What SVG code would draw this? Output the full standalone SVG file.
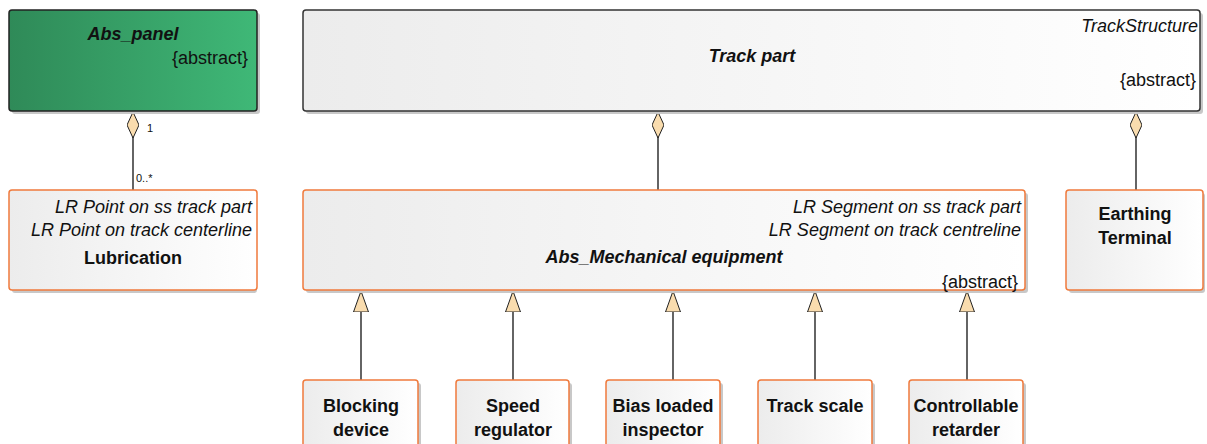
<svg xmlns="http://www.w3.org/2000/svg" width="1207" height="444" viewBox="0 0 1207 444">
<defs>
<linearGradient id="gGreen" x1="0" y1="0" x2="1" y2="0"><stop offset="0" stop-color="#2f8a58"/><stop offset="1" stop-color="#3fb877"/></linearGradient>
<linearGradient id="gGrey" x1="0" y1="0" x2="1" y2="0"><stop offset="0" stop-color="#ececec"/><stop offset="1" stop-color="#ffffff"/></linearGradient>
<marker id="diamond" viewBox="0 0 26 12" refX="26" refY="6" markerWidth="26" markerHeight="12" markerUnits="userSpaceOnUse" orient="auto"><path d="M0,6 L13,0 L26,6 L13,12 Z" fill="#f9dcae" stroke="#222" stroke-width="1"/></marker>
<marker id="tri" viewBox="0 0 21 16" refX="21" refY="8" markerWidth="21" markerHeight="16" markerUnits="userSpaceOnUse" orient="auto"><path d="M21,8 L0,0.5 L0,15.5 Z" fill="#f9dcae" stroke="#222" stroke-width="1"/></marker>
</defs>
<style>
text{font-family:"Liberation Sans",Arial,sans-serif;fill:#111}
.shadow{fill:#c8c8c8}
.cls{stroke:#f07a3c;stroke-width:1.5;fill:url(#gGrey)}
.dark{stroke:#333;stroke-width:1.5}
.it{font-style:italic;font-size:18px}
.bi{font-style:italic;font-weight:bold;font-size:18px}
.b{font-weight:bold;font-size:18px}
.r{font-size:18px}
.sm{font-size:11px}
.ln{stroke:#111;stroke-width:1.3;fill:none}
</style>
<g id="connectors">
<line class="ln" x1="133" y1="190" x2="133" y2="112" marker-end="url(#diamond)"/>
<line class="ln" x1="658" y1="190" x2="658" y2="112" marker-end="url(#diamond)"/>
<line class="ln" x1="1136" y1="190" x2="1136" y2="112" marker-end="url(#diamond)"/>
<line class="ln" x1="361" y1="380" x2="361" y2="291" marker-end="url(#tri)"/>
<line class="ln" x1="513" y1="380" x2="513" y2="291" marker-end="url(#tri)"/>
<line class="ln" x1="673" y1="380" x2="673" y2="291" marker-end="url(#tri)"/>
<line class="ln" x1="815" y1="380" x2="815" y2="291" marker-end="url(#tri)"/>
<line class="ln" x1="967" y1="380" x2="967" y2="291" marker-end="url(#tri)"/>
<text class="sm" x="147" y="132">1</text>
<text class="sm" x="136" y="182">0..*</text>
</g>
<g id="abs_panel">
<rect class="shadow" x="12" y="13" width="248" height="101" rx="3"/>
<rect x="9" y="10" width="248" height="101" rx="3" fill="url(#gGreen)" stroke="#222" stroke-width="1.5"/>
<text class="bi" x="133" y="40" text-anchor="middle">Abs_panel</text>
<text class="r" x="248" y="64" text-anchor="end">{abstract}</text>
</g>
<g id="track_part">
<rect class="shadow" x="306" y="13" width="897" height="101" rx="3"/>
<rect x="303" y="10" width="897" height="101" rx="3" fill="url(#gGrey)" class="dark"/>
<text class="it" x="1198" y="32" text-anchor="end">TrackStructure</text>
<text class="bi" x="752" y="62" text-anchor="middle">Track part</text>
<text class="r" x="1196" y="86" text-anchor="end">{abstract}</text>
</g>
<g id="lubrication">
<rect class="shadow" x="12" y="193" width="245" height="100" rx="3"/>
<rect class="cls" x="9" y="190" width="248" height="100" rx="3"/>
<text class="it" x="252" y="213" text-anchor="end">LR Point on ss track part</text>
<text class="it" x="252" y="236" text-anchor="end">LR Point on track centerline</text>
<text class="b" x="133" y="264" text-anchor="middle">Lubrication</text>
</g>
<g id="mechanical_equipment">
<rect class="shadow" x="306" y="193" width="722" height="100" rx="3"/>
<rect class="cls" x="303" y="190" width="722" height="100" rx="3"/>
<text class="it" x="1021" y="213" text-anchor="end">LR Segment on ss track part</text>
<text class="it" x="1021" y="236" text-anchor="end">LR Segment on track centreline</text>
<text class="bi" x="664" y="263" text-anchor="middle">Abs_Mechanical equipment</text>
<text class="r" x="1018" y="288" text-anchor="end">{abstract}</text>
</g>
<g id="earthing_terminal">
<rect class="shadow" x="1069" y="193" width="136" height="100" rx="3"/>
<rect class="cls" x="1066" y="190" width="137" height="100" rx="3"/>
<text class="b" x="1135" y="220" text-anchor="middle">Earthing</text>
<text class="b" x="1135" y="244" text-anchor="middle">Terminal</text>
</g>
<g id="blocking_device">
<rect class="shadow" x="306" y="383" width="115" height="70" rx="3"/>
<rect class="cls" x="303" y="380" width="115" height="70" rx="3"/>
<text class="b" x="361" y="412" text-anchor="middle">Blocking</text>
<text class="b" x="361" y="436" text-anchor="middle">device</text>
</g>
<g id="speed_regulator">
<rect class="shadow" x="459" y="383" width="113" height="70" rx="3"/>
<rect class="cls" x="456" y="380" width="113" height="70" rx="3"/>
<text class="b" x="513" y="412" text-anchor="middle">Speed</text>
<text class="b" x="513" y="436" text-anchor="middle">regulator</text>
</g>
<g id="bias_loaded_inspector">
<rect class="shadow" x="609" y="383" width="114" height="70" rx="3"/>
<rect class="cls" x="606" y="380" width="114" height="70" rx="3"/>
<text class="b" x="663" y="412" text-anchor="middle">Bias loaded</text>
<text class="b" x="663" y="436" text-anchor="middle">inspector</text>
</g>
<g id="track_scale">
<rect class="shadow" x="761" y="383" width="114" height="70" rx="3"/>
<rect class="cls" x="758" y="380" width="114" height="70" rx="3"/>
<text class="b" x="815" y="412" text-anchor="middle">Track scale</text>
</g>
<g id="controllable_retarder">
<rect class="shadow" x="912" y="383" width="114" height="70" rx="3"/>
<rect class="cls" x="909" y="380" width="114" height="70" rx="3"/>
<text class="b" x="966" y="412" text-anchor="middle">Controllable</text>
<text class="b" x="966" y="436" text-anchor="middle">retarder</text>
</g>
</svg>
